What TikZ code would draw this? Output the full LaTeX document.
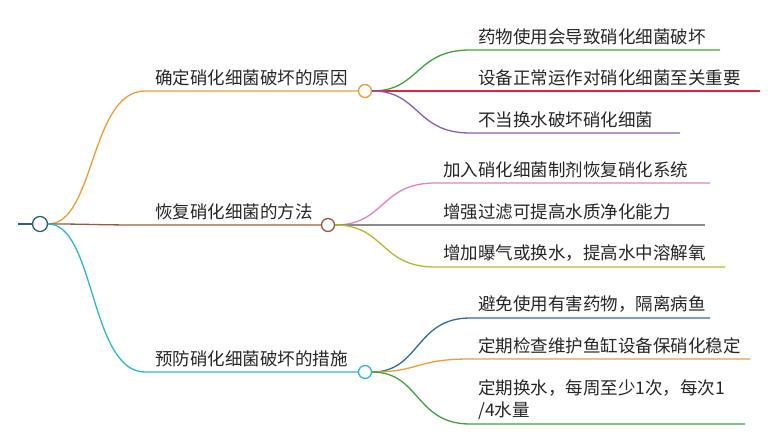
\documentclass[tikz,border=0pt]{standalone}
\usepackage{fontspec}
\setmainfont{Noto Sans CJK SC}
\begin{document}
\begin{tikzpicture}[x=1pt,y=-1pt,
  t/.style={anchor=south west,inner sep=0pt,font=\fontsize{17.5}{20}\selectfont,text=black!85},
  dot/.style={circle,draw,line width=1.3pt,fill=white,minimum size=13pt,inner sep=0pt},
  l/.style={line width=1.3pt}]
\useasboundingbox (0,0) rectangle (780,441);
\definecolor{c1}{HTML}{EF9B33}\definecolor{c2}{HTML}{9A5A3E}\definecolor{c3}{HTML}{2BB8CC}
\definecolor{g}{HTML}{3EA33A}\definecolor{r}{HTML}{D9283A}\definecolor{p}{HTML}{8D5CB0}
\definecolor{pk}{HTML}{E57FC8}\definecolor{gy}{HTML}{8A8A8A}\definecolor{ol}{HTML}{B5B934}
\definecolor{db}{HTML}{2A6F9E}\definecolor{rt}{HTML}{2E6378}
\coordinate (s) at (18,224);
\node[dot,draw=rt,minimum size=15pt] (root) at (40,224) {};
\draw[l,rt] (s) -- (root);
\node[dot,draw=c1] (a) at (365,91) {};
\node[dot,draw=c2] (b) at (328,225) {};
\node[dot,draw=c3] (c) at (365,372) {};
\node[t] (ta) at (155,86) {确定硝化细菌破坏的原因};
\node[t] (tb) at (155,220) {恢复硝化细菌的方法};
\node[t] (tc) at (155,367) {预防硝化细菌破坏的措施};
\draw[l,c1] (root) .. controls (95,224) and (90,91) .. (145,91) -- (a);
\draw[l,c2] (root) .. controls (95,224) and (90,225) .. (145,225) -- (b);
\draw[l,c3] (root) .. controls (95,224) and (90,372) .. (145,372) -- (c);
\coordinate (a1) at (720,50);\coordinate (a2) at (760,91);\coordinate (a3) at (680,133);
\draw[l,g] (a) .. controls (420,91) and (415,50) .. (470,50) -- (a1);
\draw[l,r] (a) -- (a2);
\draw[l,p] (a) .. controls (420,91) and (415,133) .. (470,133) -- (a3);
\node[t] at (478,45) {药物使用会导致硝化细菌破坏};
\node[t] at (478,86) {设备正常运作对硝化细菌至关重要};
\node[t] at (478,128) {不当换水破坏硝化细菌};
\coordinate (b1) at (710,183);\coordinate (b2) at (705,225);\coordinate (b3) at (725,267);
\draw[l,pk] (b) .. controls (385,225) and (380,183) .. (435,183) -- (b1);
\draw[l,gy] (b) -- (b2);
\draw[l,ol] (b) .. controls (385,225) and (380,267) .. (435,267) -- (b3);
\node[t] at (443,178) {加入硝化细菌制剂恢复硝化系统};
\node[t] at (443,220) {增强过滤可提高水质净化能力};
\node[t] at (443,262) {增加曝气或换水，提高水中溶解氧};
\coordinate (c1e) at (710,318);\coordinate (c2e) at (750,359);\coordinate (c3e) at (745,424);
\draw[l,db] (c) .. controls (420,372) and (415,318) .. (470,318) -- (c1e);
\draw[l,c1] (c) .. controls (420,372) and (415,359) .. (470,359) -- (c2e);
\draw[l,g] (c) .. controls (420,372) and (415,424) .. (470,424) -- (c3e);
\node[t] at (478,313) {避免使用有害药物，隔离病鱼};
\node[t] at (478,354) {定期检查维护鱼缸设备保硝化稳定};
\node[t] at (478,397) {定期换水，每周至少1次，每次1};
\node[t] at (478,420) {/4水量};
\end{tikzpicture}
\end{document}
